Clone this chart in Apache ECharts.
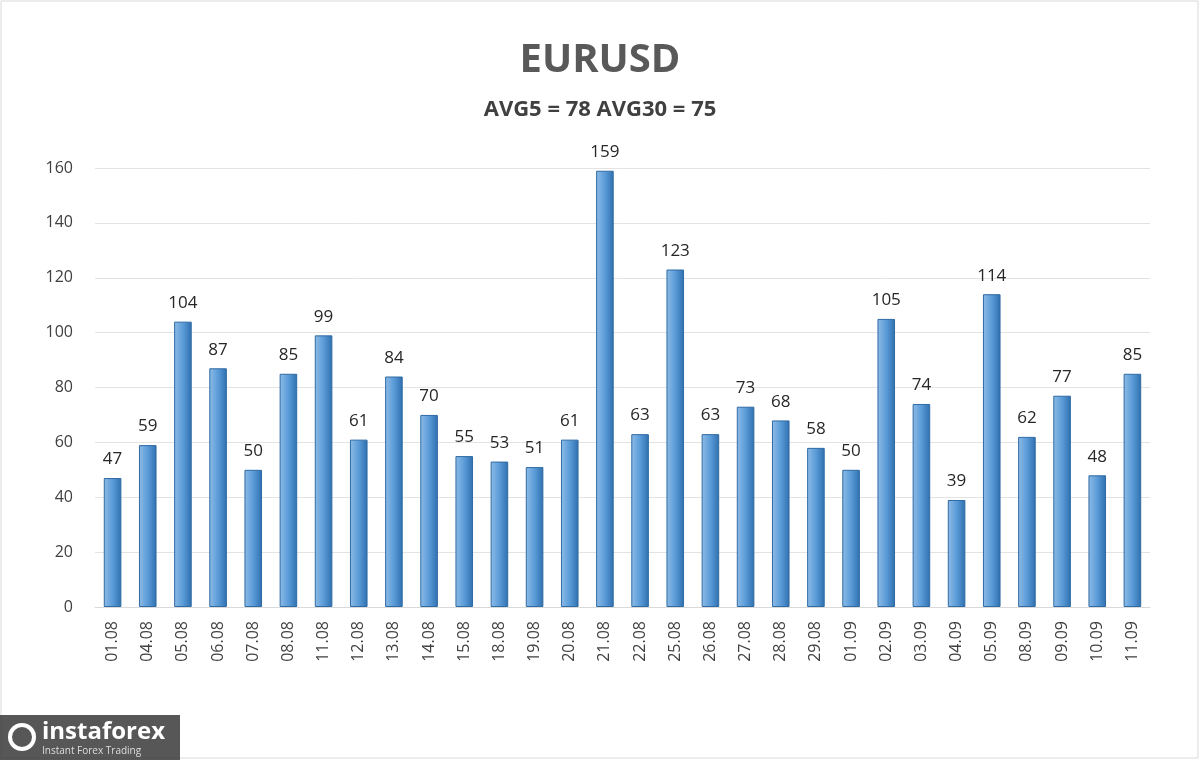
<!DOCTYPE html>
<html><head><meta charset="utf-8">
<script src="https://cdn.jsdelivr.net/npm/echarts@6/dist/echarts.min.js"></script>
<style>html,body{margin:0;padding:0;background:#fff}#c{width:1200px;height:760px}</style>
</head><body><div id="c"></div>
<script>
const categories = ['01.08','04.08','05.08','06.08','07.08','08.08','11.08','12.08','13.08','14.08','15.08','18.08','19.08','20.08','21.08','22.08','25.08','26.08','27.08','28.08','29.08','01.09','02.09','03.09','04.09','05.09','08.09','09.09','10.09','11.09']
const values = [47,59,104,87,50,85,99,61,84,70,55,53,51,61,159,63,123,63,73,68,58,50,105,74,39,114,62,77,48,85]
const titleText = 'EURUSD'
const subtitleText = 'AVG5 = 78 AVG30 = 75'

const chart = echarts.init(document.getElementById('c'))
chart.setOption({
    animation:false,
    backgroundColor:'#fff',
    title:{
        text:titleText,
        subtext:subtitleText,
        left:'center',
        top:36,
        itemGap:18,
        textStyle:{fontFamily:'Open Sans',fontSize:40,fontWeight:'bold',color:'#595959'},
        subtextStyle:{fontFamily:'Open Sans',fontSize:22,fontWeight:'bold',color:'#404040'}
    },
    grid:{left:95,right:50,top:168,bottom:153},
    xAxis:{
        type:'category',
        data:categories,
        axisTick:{show:false},
        axisLine:{lineStyle:{color:'#d9d9d9'}},
        axisLabel:{rotate:90,color:'#404040',fontSize:16,fontFamily:'Open Sans',margin:14}
    },
    yAxis:{
        type:'value',min:0,max:160,interval:20,
        axisLabel:{color:'#404040',fontSize:16,fontFamily:'Open Sans',margin:22},
        splitLine:{lineStyle:{color:'#e3e3e3'}}
    },
    series:[{
        type:'bar',
        data:values,
        barWidth:'50%',
        itemStyle:{
            color:new echarts.graphic.LinearGradient(0,0,1,0,[
                {offset:0,color:'#8fbce6'},
                {offset:0.5,color:'#5a9bd8'},
                {offset:1,color:'#2f6fae'}
            ]),
            borderColor:'#2e6aa3',borderWidth:1
        },
        label:{show:true,position:'top',distance:10,color:'#262626',fontSize:17,fontFamily:'Open Sans'}
    }],
    graphic:[
        {type:'rect',shape:{x:1,y:1,width:1197,height:757},style:{fill:'none',stroke:'#d9d9d9',lineWidth:1}},
        {type:'rect',shape:{x:0,y:715,width:180,height:45},style:{fill:'#3a3a3a',opacity:0.85}},
        {type:'text',left:42,top:720,style:{text:'instaforex',fill:'#fff',font:'bold 24px Open Sans'}},
        {type:'text',left:42,top:746,style:{text:'Instant Forex Trading',fill:'#ddd',font:'10px Open Sans'}},
        {type:'circle',shape:{cx:22,cy:737,r:12},style:{fill:'none',stroke:'#fff',lineWidth:4}}
    ]
})
</script></body></html>
